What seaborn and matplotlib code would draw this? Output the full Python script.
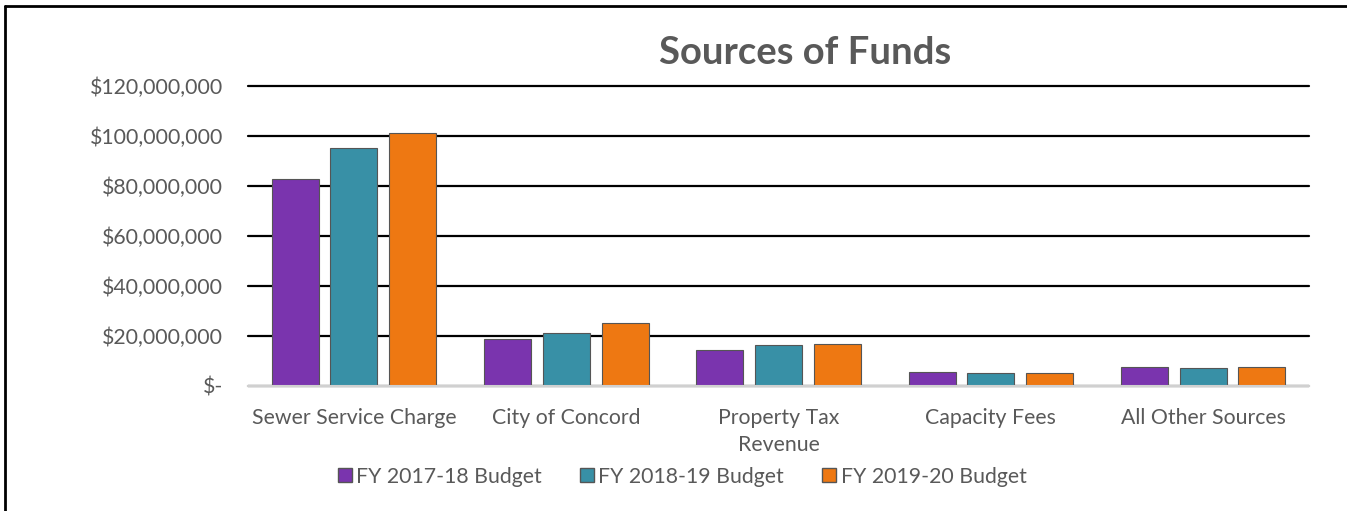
import pandas as pd
import matplotlib.pyplot as plt
import seaborn as sns
from matplotlib.ticker import FuncFormatter
from matplotlib.lines import Line2D

categories = ["Sewer Service Charge", "City of Concord", "Property Tax\nRevenue",
              "Capacity Fees", "All Other Sources"]
series = ["FY 2017-18 Budget", "FY 2018-19 Budget", "FY 2019-20 Budget"]
fy2017 = [82.8e6, 18.7e6, 14.4e6, 5.5e6, 7.7e6]
fy2018 = [95.2e6, 21.3e6, 16.4e6, 5.3e6, 7.3e6]
fy2019 = [101.2e6, 25.3e6, 16.8e6, 5.1e6, 7.7e6]
colors = ["#7A34AE", "#3890A6", "#EE7812"]

rows = []
for name, vals in zip(series, [fy2017, fy2018, fy2019]):
    for cat, v in zip(categories, vals):
        rows.append({"Source": cat, "Amount": v, "Budget": name})
df = pd.DataFrame(rows)

sns.set_theme(style="white")
plt.rcParams['font.family'] = ['Lato', 'DejaVu Sans']
text_gray = "#595959"

fig = plt.figure(figsize=(13.47, 5.11), dpi=100)
ax = fig.add_axes([0.184, 0.245, 0.788, 0.587])

sns.barplot(data=df, x="Source", y="Amount", hue="Budget", palette=colors,
            width=0.83, gap=0.2, edgecolor="#555555", linewidth=0.8,
            saturation=1, ax=ax, legend=False)

ax.set_ylim(0, 120e6)
ax.set_yticks(range(0, 120000001, 20000000))
ax.yaxis.set_major_formatter(FuncFormatter(
    lambda v, p: "$-" if v == 0 else f"${v:,.0f}"))
ax.grid(axis="y", color="black", linewidth=1.6)
for gl in ax.get_ygridlines():
    gl.set_clip_on(False)
ax.set_axisbelow(True)
for s in ["top", "right", "left"]:
    ax.spines[s].set_visible(False)
ax.spines["bottom"].set_color("#D0D0D0")
ax.spines["bottom"].set_linewidth(1.5)
ax.tick_params(axis="both", length=0, labelsize=15.3, colors=text_gray)
ax.tick_params(axis="x", pad=16)
ax.tick_params(axis="y", pad=18)
for lbl in ax.get_xticklabels():
    lbl.set_linespacing(1.45)
ax.set_xlabel("")
ax.set_ylabel("")

fig.text(0.598, 0.897, "Sources of Funds", ha="center", va="center",
         fontsize=27.5, fontweight="bold", color=text_gray)

handles = [Line2D([], [], marker="s", linestyle="", markersize=10,
                  markerfacecolor=c, markeredgecolor="#555555", label=s)
           for c, s in zip(colors, series)]
fig.legend(handles=handles, loc="center", bbox_to_anchor=(0.505, 0.067),
           ncol=3, frameon=False, fontsize=15.3, labelcolor=text_gray,
           handletextpad=0.05, columnspacing=1.6, handlelength=1.0)

# chart frame (left and top edges)
fig.add_artist(Line2D([0.004, 0.004], [0, 0.988], color="black", linewidth=2,
                      transform=fig.transFigure))
fig.add_artist(Line2D([0.004, 1], [0.988, 0.988], color="black", linewidth=2,
                      transform=fig.transFigure))

fig.savefig("out.png", dpi=100)
